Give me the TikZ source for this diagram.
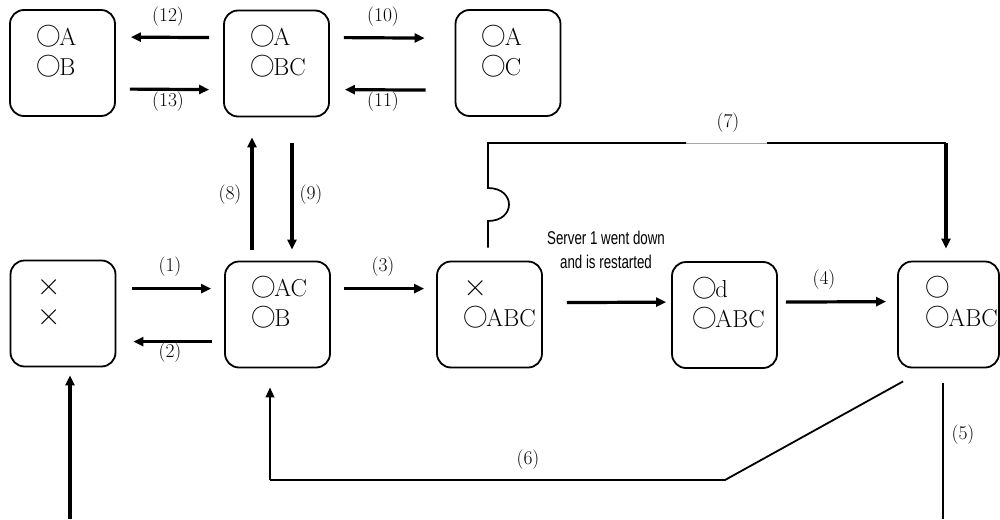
\documentclass[tikz,border=0pt]{standalone}
\usepackage{fontspec}
\newfontfamily\cjkfont{Noto Sans CJK JP}
\newfontfamily\narrowfont[FakeStretch=0.72]{Liberation Sans}
\usetikzlibrary{arrows.meta,calc}
\newcommand\oo{\makebox[0.9em][c]{\cjkfont ○}}
\newcommand\xx{\makebox[0.9em][c]{\scalebox{1.35}{×}}}
\newcommand\boxrows[4]{%
  \node[rowtxt] (#1a) at ($(#1.north west)+(#4,36)$) {#2};
  \node[rowtxt] (#1b) at ($(#1.north west)+(#4,66)$) {#3};}
\tikzset{
  stbox/.style={draw, line width=1.8pt, rounded corners=14pt, minimum width=105pt, minimum height=106pt, inner sep=0pt},
  rowtxt/.style={anchor=base west, inner sep=0pt, font=\fontsize{24.5}{30}\selectfont},
  lbl/.style={inner sep=0pt, font=\fontsize{19.5}{21}\selectfont},
  thickarr/.style={line width=3.2pt, -{Triangle[length=10pt,width=9pt]}},
  thinarr/.style={line width=2.4pt, -{Triangle[length=10pt,width=8.5pt]}},
  thinline/.style={line width=1.7pt},
  srv/.style={align=center, inner sep=0pt, font=\narrowfont\fontsize{18.5}{24}\selectfont},
}
\begin{document}
\begin{tikzpicture}[x=1pt,y=-1pt]
\useasboundingbox (0,0) rectangle (1000,519);
% boxes
\node[stbox] (b1) at (62.5,63) {};
\node[stbox] (b2) at (276.5,63.5) {};
\node[stbox] (b3) at (508,63) {};
\node[stbox] (b4) at (63,313.5) {};
\node[stbox] (b5) at (277.5,314.5) {};
\node[stbox] (b6) at (489.5,314.5) {};
\node[stbox] (b7) at (724.5,315) {};
\node[stbox, minimum width=101pt] (b8) at (948.5,314.5) {};
% box texts
\boxrows{b1}{\oo A}{\oo B}{28}
\boxrows{b2}{\oo A}{\oo BC}{28}
\boxrows{b3}{\oo A}{\oo C}{28}
\boxrows{b4}{\xx}{\xx}{28}
\boxrows{b5}{\oo AC}{\oo B}{28}
\boxrows{b6}{\xx}{\oo ABC}{28}
\boxrows{b7}{\oo d}{\oo ABC}{22}
\boxrows{b8}{\oo}{\oo ABC}{29}
% top row arrows
\draw[thickarr] ($(b2.north west)+(-14,28)$) -- ($(b1.north east)+(15,28)$);
\draw[thickarr] ($(b1.north east)+(14,80)$) -- ($(b2.north west)+(-14,80)$);
\draw[thickarr] ($(b2.north east)+(14,28)$) -- ($(b3.north west)+(-30,29)$);
\draw[thickarr] ($(b3.north west)+(-29,81)$) -- ($(b2.north east)+(15,80)$);
\node[lbl] (l12) at (168,17) {(12)};
\node[lbl] (l13) at (168,102) {(13)};
\node[lbl] (l10) at (383,17) {(10)};
\node[lbl] (l11) at (383,102) {(11)};
% vertical arrows
\draw[thickarr] ($(b5.north)+(-25.5,-11)$) -- ($(b2.south)+(-24.5,20)$);
\draw[thickarr] ($(b2.south)+(15.5,26)$) -- ($(b5.north)+(14.5,-11)$);
\node[lbl] (l8) at (230,195) {(8)};
\node[lbl] (l9) at (311,195) {(9)};
% middle row arrows
\draw[thickarr] ($(b4.north east)+(16,29)$) -- ($(b5.north west)+(-13,28)$);
\draw[thickarr] ($(b5.north west)+(-12,81)$) -- ($(b4.north east)+(17,82)$);
\draw[thickarr] ($(b5.north east)+(13,28)$) -- ($(b6.north west)+(-12,28)$);
\draw[thickarr] ($(b6.north east)+(24,42)$) -- ($(b7.north west)+(-5,41)$);
\draw[thickarr] ($(b7.north east)+(8,41)$) -- ($(b8.north west)+(-11,41)$);
\node[lbl] (l1) at (170,267) {(1)};
\node[lbl] (l2) at (170,353) {(2)};
\node[lbl] (l3) at (383,267) {(3)};
\node[lbl] (l4) at (824,280) {(4)};
\node[srv, anchor=north] (srv) at (606,230.5) {Server 1 went down\\and is restarted};
% connector (7)
\coordinate (c7s) at ($(b6.north)+(-1.5,-13)$);
\coordinate (c7g1) at (686,143);
\coordinate (c7g2) at (767,143);
\coordinate (c7c) at (946,143);
\draw[thinline] (c7s) -- (488,221) .. controls (516,221) and (516,188) .. (488,188) -- (488,143) -- (c7g1);
\draw[gray!70, line width=0.8pt] (c7g1) -- (c7g2);
\draw[line width=1.9pt] (c7g2) -- (c7c);
\draw[thickarr] (c7c) -- ($(b8.north)+(-2.5,-12)$);
\node[lbl] (l7) at (728,123) {(7)};
% connector (6)
\coordinate (c6s) at ($(b8.south west)+(6,13)$);
\coordinate (c6a) at (725,480);
\coordinate (c6b) at (270,480);
\draw[line width=1.8pt] (c6s) -- (c6a) -- (c6b);
\draw[thinarr] (c6b) -- ($(b5.south)+(-7.5,19)$);
\node[lbl] (l6) at (528,460) {(6)};
% connector (5)
\coordinate (c5e) at (943,519);
\draw[line width=1.9pt] ($(b8.south)+(-5.5,15)$) -- (c5e);
\node[lbl] (l5) at (963,435) {(5)};
% bottom arrow into b4
\coordinate (c0) at (70,519);
\draw[thickarr] (c0) -- ($(b4.south)+(7,8)$);
\end{tikzpicture}
\end{document}
